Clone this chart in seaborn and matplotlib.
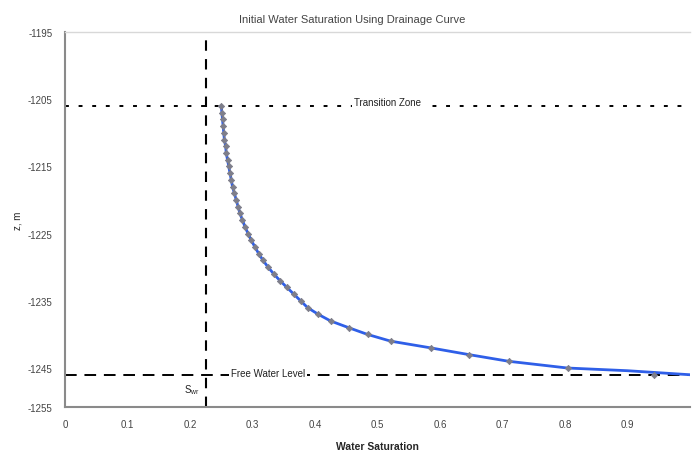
import matplotlib
matplotlib.use("Agg")
import matplotlib.pyplot as plt
import seaborn as sns
import numpy as np
import pandas as pd

# ---- data ----
depth_m = [-1206, -1207, -1208, -1209, -1210, -1211, -1212, -1213, -1214, -1215,
           -1216, -1217, -1218, -1219, -1220, -1221, -1222, -1223, -1224, -1225,
           -1226, -1227, -1228, -1229, -1230, -1231, -1232, -1233, -1234, -1235,
           -1236, -1237, -1238, -1239, -1240, -1241, -1242, -1243, -1244, -1245,
           -1246]
sw_points = [0.250, 0.251, 0.252, 0.253, 0.254, 0.255, 0.257, 0.258, 0.260, 0.262,
             0.264, 0.266, 0.268, 0.271, 0.274, 0.277, 0.280, 0.284, 0.288, 0.293,
             0.298, 0.304, 0.310, 0.317, 0.325, 0.334, 0.344, 0.355, 0.366, 0.377,
             0.388, 0.405, 0.425, 0.454, 0.484, 0.521, 0.585, 0.646, 0.710, 0.804,
             0.942]
curve_depth = depth_m[:-1] + [-1245.4, -1245.7, -1246.0]
curve_sw = sw_points[:-1] + [0.90, 0.95, 1.00]

swr = 0.225
transition_top = -1206
free_water_level = -1246

y_ticks = [-1195, -1205, -1215, -1225, -1235, -1245, -1250.8]
y_tick_labels = ["-1195", "-1205", "-1215", "-1225", "-1235", "-1245", "-1255"]
x_ticks = [0, 0.1, 0.2, 0.3, 0.4, 0.5, 0.6, 0.7, 0.8, 0.9, 1.0]
x_tick_labels = ["0", "0.1", "0.2", "0.3", "0.4", "0.5", "0.6", "0.7", "0.8", "0.9", ""]

pts = pd.DataFrame({"sw": sw_points, "z": depth_m})
crv = pd.DataFrame({"sw": curve_sw, "z": curve_depth})

sns.set_style("white")
plt.rcParams["font.family"] = ["Liberation Sans", "DejaVu Sans"]
plt.rcParams["mathtext.default"] = "regular"

fig = plt.figure(figsize=(6.92, 4.77), dpi=100)
ax = fig.add_axes([65/692, 1-408/477, 625/692, 375/477])

sns.lineplot(data=crv, x="sw", y="z", sort=False, color="#2f5fe8", lw=2.0, ax=ax, zorder=3)
sns.scatterplot(data=pts, x="sw", y="z", marker="D", s=10, color="#7e7e8a",
                edgecolor="#7e7e8a", linewidth=0.6, ax=ax, zorder=4)

ax.axvline(swr, color="black", lw=1.5, dashes=(5, 4), zorder=2)
ax.axhline(transition_top, color="black", lw=1.4, dashes=(2, 5), zorder=2)
ax.axhline(free_water_level, color="black", lw=1.4, dashes=(6, 4), zorder=2)

ax.text(0.516, transition_top + 0.6, "Transition Zone", ha="center", va="center",
        fontsize=7, color="#222222", bbox=dict(facecolor="white", edgecolor="none", pad=1.5), zorder=5)
ax.text(0.266, free_water_level + 0.2, "Free Water Level", ha="left", va="center",
        fontsize=7, color="#222222", bbox=dict(facecolor="white", edgecolor="none", pad=1.5), zorder=5)
ax.text(0.215, -1248.1, r"S$_{wr}$", ha="right", va="center", fontsize=7, color="#222222")

ax.set_xlim(0, 1.0)
ax.set_ylim(-1250.8, -1195)
ax.set_xticks(x_ticks)
ax.set_xticklabels(x_tick_labels)
ax.set_yticks(y_ticks)
ax.set_yticklabels(y_tick_labels)
ax.tick_params(axis="both", labelsize=7, colors="#444444", length=3, width=1,
               direction="out", pad=6)
ax.tick_params(axis="both", color="#999999")

for side in ["left", "bottom"]:
    ax.spines[side].set_color("#8a8a8a")
    ax.spines[side].set_linewidth(1.5)
ax.spines["top"].set_color("#d8d8d8")
ax.spines["top"].set_linewidth(1.0)
ax.spines["right"].set_visible(False)

ax.set_xlabel("Water Saturation", fontsize=7.5, fontweight="bold", labelpad=8)
ax.set_ylabel("z, m", fontsize=7, labelpad=4)

fig.text(352/692, 1-20/477, "Initial Water Saturation Using Drainage Curve",
         ha="center", va="center", fontsize=8, color="#444444")

fig.savefig("out.png", dpi=100)
